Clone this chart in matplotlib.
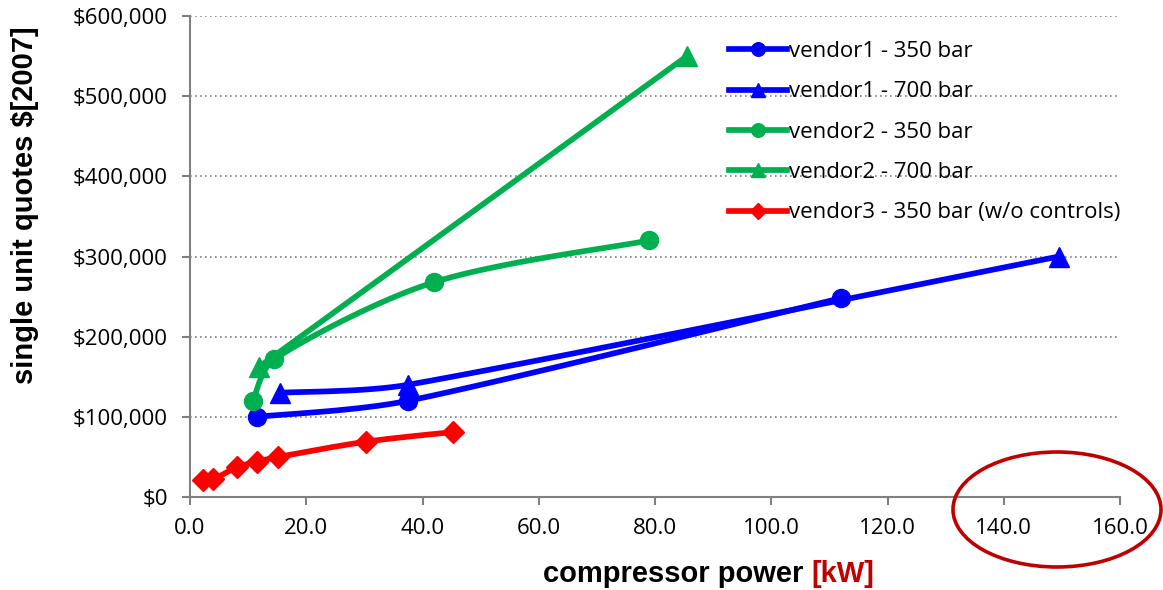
import numpy as np
import matplotlib
matplotlib.use("Agg")
import matplotlib.pyplot as plt
from matplotlib.lines import Line2D
from matplotlib.patches import Ellipse
from matplotlib.ticker import FuncFormatter

plt.rcParams['font.family'] = ['Open Sans', 'DejaVu Sans']

# compressor power [kW] and single unit quotes [$2007]
v1_350_kw = [11.5, 37.5, 112.0]
v1_350_usd = [100000, 120000, 248000]
v1_700_kw = [15.5, 37.5, 149.5]
v1_700_usd = [130000, 140000, 300000]
v2_350_kw = [10.8, 14.5, 42.0, 79.0]
v2_350_usd = [120000, 172000, 268000, 320000]
v2_700_kw = [11.8, 85.5]
v2_700_usd = [162000, 550000]
v3_350_kw = [2.3, 4.0, 8.0, 11.5, 15.2, 30.3, 45.2]
v3_350_usd = [21000, 22000, 37000, 44000, 50000, 69000, 81000]

labels = ['vendor1 - 350 bar', 'vendor1 - 700 bar', 'vendor2 - 350 bar',
          'vendor2 - 700 bar', 'vendor3 - 350 bar (w/o controls)']
xticks = [0, 20, 40, 60, 80, 100, 120, 140, 160]
yticks = [0, 100000, 200000, 300000, 400000, 500000, 600000]

BLUE = '#0000FF'
GREEN = '#00B050'
RED = '#FF0000'
DARKRED = '#C00000'


def clamp(v, lim):
    n = np.hypot(*v)
    return v if n <= lim or n == 0 else v * lim / n


def smooth(xs, ys, sx, sy, n=40):
    # smoothed line like Excel's (Bezier through the points, in screen space)
    p = np.column_stack([np.asarray(xs, float) * sx, np.asarray(ys, float) * sy])
    if len(p) < 3:
        return p[:, 0] / sx, p[:, 1] / sy
    pts = np.vstack([p[0], p, p[-1]])
    out = []
    t = np.linspace(0, 1, n)[:, None]
    for i in range(1, len(pts) - 2):
        p0, p1, p2, p3 = pts[i - 1], pts[i], pts[i + 1], pts[i + 2]
        d = np.hypot(*(p2 - p1))
        c1 = p1 + clamp((p2 - p0) / 6.0, d / 3.0)
        c2 = p2 - clamp((p3 - p1) / 6.0, d / 3.0)
        seg = ((1 - t) ** 3 * p1 + 3 * (1 - t) ** 2 * t * c1
               + 3 * (1 - t) * t ** 2 * c2 + t ** 3 * p2)
        out.append(seg)
    out = np.vstack(out)
    return out[:, 0] / sx, out[:, 1] / sy


fig = plt.figure(figsize=(11.63, 5.9), dpi=100)
ax = fig.add_axes([190 / 1163, 1 - 497 / 590, 930 / 1163, 481 / 590])

sx = 930 / 160.0
sy = 481 / 600000.0

series = [
    (v1_350_kw, v1_350_usd, BLUE, 'o', 13),
    (v1_700_kw, v1_700_usd, BLUE, '^', 14),
    (v2_350_kw, v2_350_usd, GREEN, 'o', 13),
    (v2_700_kw, v2_700_usd, GREEN, '^', 14),
    (v3_350_kw, v3_350_usd, RED, 'D', 11),
]

handles = []
for (xs, ys, c, m, ms), lab in zip(series, labels):
    cx, cy = smooth(xs, ys, sx, sy)
    ax.plot(cx, cy, color=c, lw=4.1, solid_capstyle='round', zorder=3)
    ax.plot(xs, ys, linestyle='none', marker=m, ms=ms, color=c,
            markeredgecolor=c, zorder=4)
    handles.append(Line2D([], [], color=c, lw=4.1, marker=m,
                          ms=ms * 0.75, markeredgecolor=c, label=lab))

ax.set_xlim(0, 160)
ax.set_ylim(0, 600000)
ax.set_xticks(xticks)
ax.set_yticks(yticks)
ax.xaxis.set_major_formatter(FuncFormatter(lambda v, p: '%.1f' % v))
ax.yaxis.set_major_formatter(FuncFormatter(lambda v, p: '${:,.0f}'.format(v)))
ax.tick_params(axis='both', labelsize=16, colors='#808080',
               labelcolor='black', length=6, width=1.5, direction='out')
ax.tick_params(axis='x', pad=9)
ax.tick_params(axis='y', pad=10)

for s in ['top', 'right']:
    ax.spines[s].set_visible(False)
for s in ['left', 'bottom']:
    ax.spines[s].set_color('#808080')
    ax.spines[s].set_linewidth(1.5)

ax.yaxis.grid(True, linestyle=(0, (1, 2)), color='#808080', lw=1.2)
ax.set_axisbelow(True)

leg = ax.legend(handles=handles, loc='upper left',
                bbox_to_anchor=(718 / 1163, 1 - 30 / 590),
                bbox_transform=fig.transFigure, frameon=False,
                fontsize=16, handlelength=2.6, handletextpad=0.1,
                labelspacing=0.87, borderpad=0)

fig.text(25 / 1163, 1 - 205 / 590, 'single unit quotes $[2007]', rotation=90,
         fontsize=21, fontweight='bold', family=['Liberation Sans'],
         ha='center', va='center')

t1 = fig.text(543 / 1163, 1 - 574 / 590, 'compressor power ', fontsize=21,
              fontweight='bold', family=['Liberation Sans'], ha='left',
              va='center')
fig.canvas.draw()
bb = t1.get_window_extent()
fig.text(bb.x1 / fig.bbox.width, 1 - 574 / 590, '[kW]', fontsize=21,
         fontweight='bold', family=['Liberation Sans'], color=DARKRED,
         ha='left', va='center')

fig.add_artist(Ellipse((1057 / 1163, 1 - 509.5 / 590), width=208 / 1163,
                       height=115 / 590, transform=fig.transFigure,
                       fill=False, edgecolor=DARKRED, lw=2.6))

fig.savefig('out.png', dpi=100)
